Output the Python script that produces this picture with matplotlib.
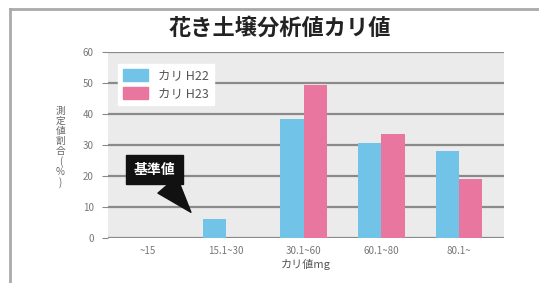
import matplotlib.pyplot as plt
from matplotlib.patches import Patch
from matplotlib.lines import Line2D
import numpy as np

plt.rcParams['font.family'] = ['Noto Sans CJK JP', 'DejaVu Sans']

# data
categories = ['~15', '15.1~30', '30.1~60', '60.1~80', '80.1~']
h22 = [0, 6, 38.5, 30.5, 28]
h23 = [0, 0, 49.5, 33.5, 19]
series_names = ['カリ H22', 'カリ H23']
colors = ['#72c3e8', '#e8769f']

fig = plt.figure(figsize=(5.39, 2.83), dpi=100)
ax = fig.add_axes([0.2, 0.159, 0.735, 0.657])

x = np.arange(len(categories))
w = 0.30
ax.bar(x - w / 2, h22, w, color=colors[0], zorder=3)
ax.bar(x + w / 2, h23, w, color=colors[1], zorder=3)

ax.set_xlim(-0.52, 4.58)
ax.set_ylim(0, 60)
ax.set_facecolor('#ebebeb')
for s in ax.spines.values():
    s.set_visible(False)
ax.set_yticks(range(0, 61, 10))
ax.yaxis.grid(True, color='#8a8a8a', lw=1.6, zorder=1)
ax.tick_params(axis='y', length=4, color='#8a8a8a', labelsize=7, labelcolor='#777777', pad=6)
ax.tick_params(axis='x', length=0, labelsize=7, labelcolor='#777777', pad=6)
ax.set_xticks(x)
ax.set_xticklabels(categories)
ax.set_xlabel('カリ値mg', fontsize=8, color='#555555', labelpad=2)

# vertical y label
fig.text(0.112, 0.48, '\n'.join('測定値割合(%)'), fontsize=7, color='#666666',
         ha='center', va='center', linespacing=1.0)

fig.suptitle('花き土壌分析値カリ値', x=0.52, y=0.94, fontsize=16, fontweight='bold', color='#222222')

# legend
handles = [Patch(color=c, label=n) for c, n in zip(colors, series_names)]
leg = ax.legend(handles=handles, loc='upper left', bbox_to_anchor=(0.01, 0.97), fontsize=9,
                frameon=True, fancybox=False, edgecolor='white', framealpha=1,
                handlelength=2.0, handleheight=1.1, borderpad=0.4, labelspacing=0.4)
for t in leg.get_texts():
    t.set_color('#555555')

# callout
ax.annotate('基準値', xy=(0.55, 8.3), xytext=(0.08, 22), fontsize=10, fontweight='bold',
            color='white', ha='center', va='center', zorder=5,
            bbox=dict(boxstyle='square,pad=0.55', fc='#111111', ec='#111111'),
            arrowprops=dict(arrowstyle='wedge,tail_width=1.8', fc='#111111', ec='#111111',
                            shrinkA=0, shrinkB=0))

# outer frame
fig.add_artist(Line2D([0.019, 0.019], [0, 0.968], color='#aaaaaa', lw=2))
fig.add_artist(Line2D([0.019, 1], [0.968, 0.968], color='#aaaaaa', lw=2))

fig.savefig('out.png', dpi=100)
